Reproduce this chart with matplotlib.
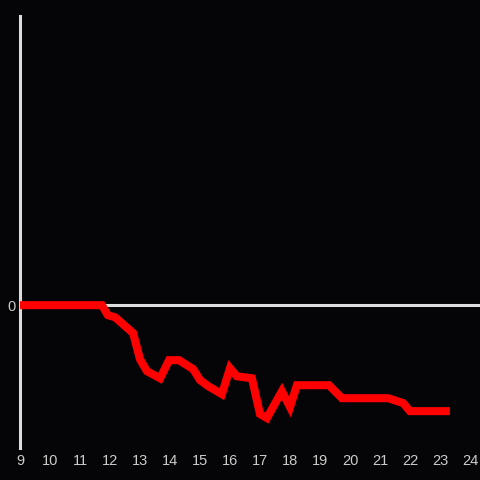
import matplotlib
matplotlib.use("Agg")
import matplotlib.pyplot as plt

x_vals = [9.0, 11.73, 11.93, 12.17, 12.77, 13.0, 13.23, 13.67, 13.97, 14.3, 14.77, 15.0,
          15.27, 15.73, 16.0, 16.23, 16.73, 17.0, 17.23, 17.73, 18.0, 18.23, 18.67, 19.3,
          19.73, 21.27, 21.77, 22.0, 23.33]
y_vals = [0, 0, -3.5, -4.2, -9.7, -18.8, -22.9, -25.4, -19.1, -19.1, -22.2, -26.0,
          -28.1, -30.9, -21.9, -24.7, -25.4, -37.8, -39.2, -29.9, -35.4, -27.8, -27.8, -27.8,
          -32.3, -32.3, -34.0, -36.8, -36.8]
x_ticks = list(range(9, 25))

bg = "#050508"
fig = plt.figure(figsize=(4.8, 4.8), dpi=100, facecolor=bg)
ax = fig.add_axes([20/480, 32/480, 460/480, 432/480], facecolor=bg)
ax.set_xlim(9, 9 + 460/30)
ax.set_ylim(-49.6, 100.4)

ax.axhline(0, color="#dddddd", lw=2.2, zorder=1)
ax.plot(x_vals, y_vals, color="#ff0000", lw=5.8, solid_joinstyle="miter",
        solid_capstyle="butt", zorder=3)

for s in ["top", "right", "bottom"]:
    ax.spines[s].set_visible(False)
ax.spines["left"].set_color("#dddddd")
ax.spines["left"].set_linewidth(2.2)

ax.set_xticks(x_ticks)
ax.set_xticklabels([str(t) for t in x_ticks])
ax.set_yticks([0])
ax.set_yticklabels(["0"])
ax.tick_params(axis="both", length=0, colors="#cccccc", labelsize=10.5)
ax.tick_params(axis="x", pad=4)
ax.tick_params(axis="y", pad=3)
for lab in ax.get_xticklabels() + ax.get_yticklabels():
    lab.set_fontfamily("Liberation Sans")

fig.savefig("out.png", dpi=100, facecolor=bg)
